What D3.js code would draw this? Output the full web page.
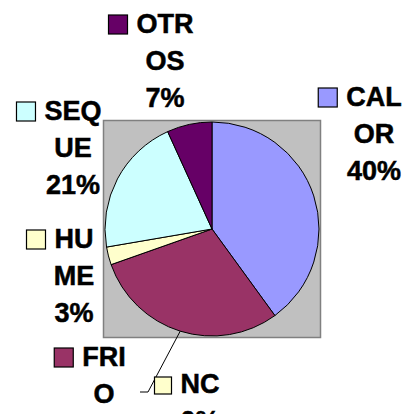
<!DOCTYPE html>
<html>
<head>
<meta charset="utf-8">
<script src="https://cdn.jsdelivr.net/npm/d3@7/dist/d3.min.js"></script>
<style>
  html, body { margin: 0; padding: 0; background: #ffffff; overflow: hidden; }
</style>
</head>
<body>
<div id="chart"></div>
<script>
// Slice data (clockwise from 12 o'clock)
const categories = ["CALOR", "FRIO", "NC", "HUME", "SEQUE", "OTROS"];
const values = [40, 29.6, 0, 2.7, 20.9, 6.8];
const percentLabels = ["40%", "30%", "0%", "3%", "21%", "7%"];
const nameLines = [["CAL", "OR"], ["FRI", "O"], ["NC"], ["HU", "ME"], ["SEQ", "UE"], ["OTR", "OS"]];
const colors = ["#9999FF", "#993366", "#FFFFCC", "#FFFFCC", "#CCFFFF", "#660066"];

// Label anchor positions (text center x, first baseline y)
const labelPos = [[374, 106], [104, 366], [200, 393], [74, 248], [73, 120], [165, 33]];

const width = 412, height = 414;
const cx = 212, cy = 229, radius = 107;

const svg = d3.select("#chart")
    .append("svg")
    .attr("width", width)
    .attr("height", height)
    .style("font-family", "'Liberation Sans', Arial, sans-serif");

// Plot area
svg.append("rect")
    .attr("x", cx - radius - 1.5)
    .attr("y", cy - radius - 1.5)
    .attr("width", radius * 2 + 3)
    .attr("height", radius * 2 + 3)
    .attr("fill", "#C0C0C0")
    .attr("stroke", "#808080")
    .attr("stroke-width", 1.5);

const data = categories.map((c, i) => ({ name: c, value: values[i], color: colors[i], lines: nameLines[i], pct: percentLabels[i], pos: labelPos[i] }));

const pie = d3.pie().sort(null).value(d => d.value);
const arcs = pie(data);
const arc = d3.arc().innerRadius(0).outerRadius(radius);

const g = svg.append("g").attr("transform", `translate(${cx},${cy})`);

g.selectAll("path")
    .data(arcs.filter(d => d.data.value > 0))
    .enter()
    .append("path")
    .attr("d", arc)
    .attr("fill", d => d.data.color)
    .attr("stroke", "#000")
    .attr("stroke-width", 1)
    .attr("stroke-linejoin", "round");

// Leader line from the bottom of the pie to the NC label
const nc = data[2];
const frioArc = arcs[1];
const midA = (frioArc.startAngle + frioArc.endAngle) / 2;
const sx = cx + radius * Math.sin(midA), sy = cy - radius * Math.cos(midA);
const keyLeftNC = nc.pos[0] - 44;
svg.append("polyline")
    .attr("points", `${sx},${sy} ${keyLeftNC - 8},${nc.pos[1] - 1} ${keyLeftNC - 16},${nc.pos[1] - 1}`)
    .attr("fill", "none")
    .attr("stroke", "#000")
    .attr("stroke-width", 1);

// Data labels with legend keys
const fontSize = 27, lineH = 37, keySize = 19;
data.forEach(d => {
    const lab = svg.append("g");
    // lines falling completely below the window are not shown
    const lines = d.lines.concat([d.pct]).filter((t, i) => d.pos[1] + i * lineH - 20 < height);
    const texts = lab.selectAll("text")
        .data(lines)
        .enter()
        .append("text")
        .attr("x", d.pos[0])
        .attr("y", (t, i) => d.pos[1] + i * lineH)
        .attr("text-anchor", "middle")
        .style("font-size", fontSize + "px")
        .style("font-weight", "bold")
        .style("fill", "#000")
        .style("stroke", "#000")
        .style("stroke-width", 0.5)
        .text(t => t);
    const w = texts.node().getComputedTextLength();
    const ks = d.name === "NC" ? 17 : keySize;
    lab.append("rect")
        .attr("x", d.pos[0] - w / 2 - 9 - ks)
        .attr("y", d.pos[1] + 1 - ks)
        .attr("width", ks)
        .attr("height", ks)
        .attr("fill", d.color)
        .attr("stroke", "#000")
        .attr("stroke-width", 1.2);
});
</script>
</body>
</html>
